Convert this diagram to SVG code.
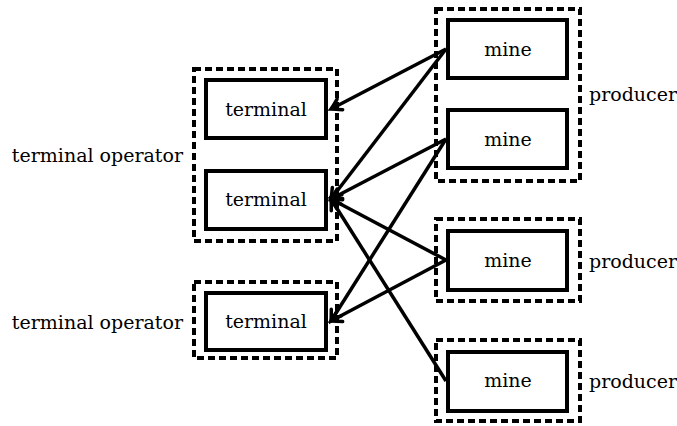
<svg xmlns="http://www.w3.org/2000/svg" width="677" height="426" viewBox="0 0 677 426">
<defs>
<marker id="arr" markerUnits="userSpaceOnUse" markerWidth="20" markerHeight="20" refX="0" refY="0" viewBox="-12 -10 20 20" orient="auto" overflow="visible">
<path d="M -10 -6 Q -3 -1.5 0 0 Q -3 1.5 -10 6" fill="none" stroke="#000" stroke-width="3.5" stroke-linecap="round"/>
</marker>
</defs>
<style>
.grp{fill:none;stroke:#000;stroke-width:4;stroke-dasharray:7 4}
.box{fill:#fff;stroke:#000;stroke-width:4}
text{font-family:'DejaVu Serif',serif;font-size:19px;fill:#000}
.c{text-anchor:middle}
.e{text-anchor:end}
.edge{stroke:#000;stroke-width:3.5;fill:none;marker-end:url(#arr)}
</style>
<rect width="677" height="426" fill="#fff"/>
<g id="group-op1"><rect class="grp" x="194" y="69" width="143" height="172"/><text class="e" x="183" y="162">terminal operator</text></g>
<g id="group-op2"><rect class="grp" x="194" y="282" width="143" height="76"/><text class="e" x="183" y="329">terminal operator</text></g>
<g id="group-prod1"><rect class="grp" x="436" y="9" width="144" height="172"/><text x="589" y="101">producer</text></g>
<g id="group-prod2"><rect class="grp" x="436" y="219" width="144" height="82"/><text x="589" y="268">producer</text></g>
<g id="group-prod3"><rect class="grp" x="436" y="340" width="144" height="81"/><text x="589" y="388">producer</text></g>
<g id="connectors">
<line class="edge" x1="446" y1="49" x2="331" y2="109"/>
<line class="edge" x1="446" y1="49" x2="331" y2="199"/>
<line class="edge" x1="446" y1="139" x2="331" y2="199"/>
<line class="edge" x1="446" y1="139" x2="331" y2="321"/>
<line class="edge" x1="446" y1="260" x2="331" y2="199"/>
<line class="edge" x1="446" y1="260" x2="331" y2="321"/>
<line class="edge" x1="446" y1="381" x2="331" y2="199"/>
</g>
<g id="terminal1"><rect class="box" x="206" y="80" width="120" height="58"/><text class="c" x="266" y="116">terminal</text></g>
<g id="terminal2"><rect class="box" x="206" y="171" width="120" height="58"/><text class="c" x="266" y="206">terminal</text></g>
<g id="terminal3"><rect class="box" x="206" y="293" width="120" height="57"/><text class="c" x="266" y="328">terminal</text></g>
<g id="mine1"><rect class="box" x="448" y="20" width="119" height="58"/><text class="c" x="508" y="56">mine</text></g>
<g id="mine2"><rect class="box" x="448" y="110" width="119" height="58"/><text class="c" x="508" y="146">mine</text></g>
<g id="mine3"><rect class="box" x="448" y="231" width="119" height="59"/><text class="c" x="508" y="267">mine</text></g>
<g id="mine4"><rect class="box" x="448" y="352" width="119" height="59"/><text class="c" x="508" y="387">mine</text></g>
</svg>
